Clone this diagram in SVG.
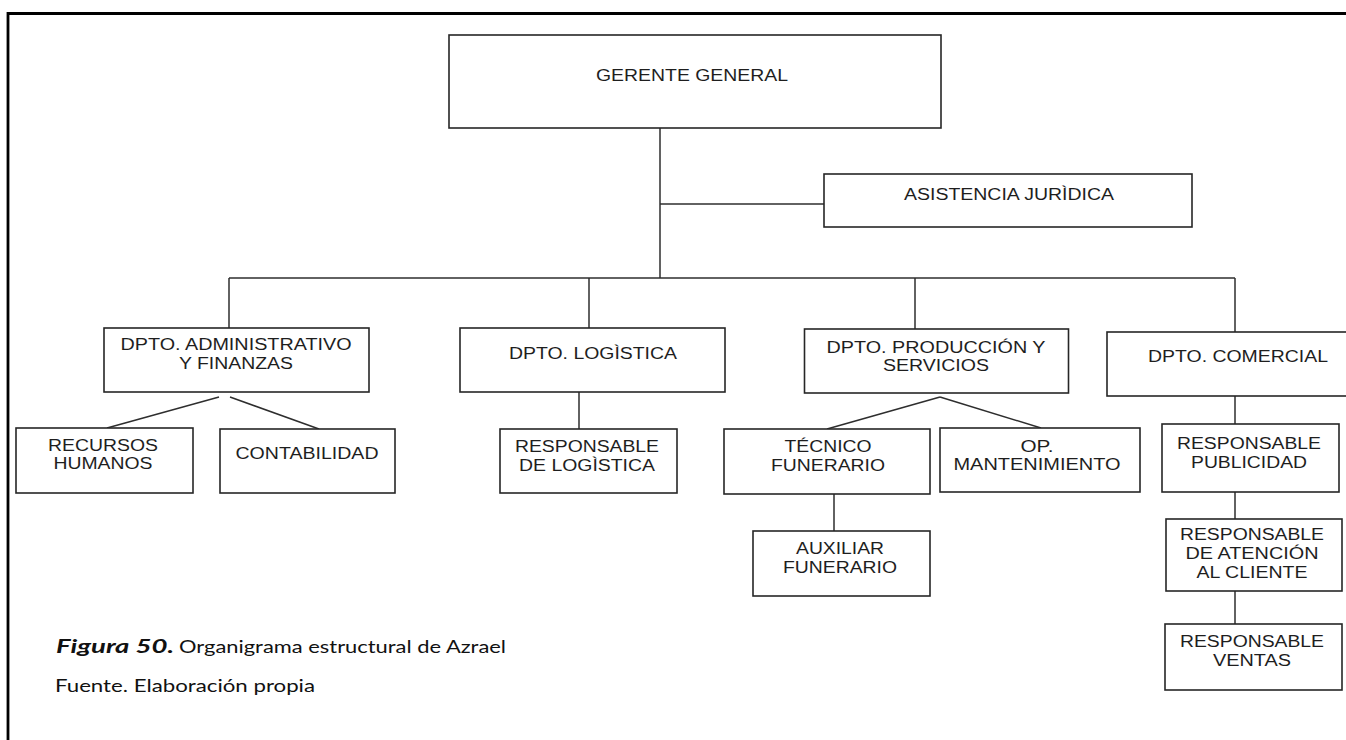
<svg xmlns="http://www.w3.org/2000/svg" width="1346" height="740" viewBox="0 0 1346 740">
<style>
.box{fill:#fff;stroke:#262626;stroke-width:1.6}
.con{fill:none;stroke:#2e2e2e;stroke-width:1.5}
.lbl{font-family:"Liberation Sans",Arial,sans-serif;font-size:16px;fill:#1e1e1e;text-anchor:middle}
.cap{font-family:Lato,"Open Sans",sans-serif;font-size:18px;fill:#111}
</style>
<rect width="1346" height="740" fill="#fff"/>
<path d="M8,740 V13.5 H1346" fill="none" stroke="#000" stroke-width="2.8"/>
<g id="connectors">
<path class="con" d="M660,128 V278"/>
<path class="con" d="M660,204 H824"/>
<path class="con" d="M229,278 H1235"/>
<path class="con" d="M229,278 V328"/>
<path class="con" d="M589,278 V328"/>
<path class="con" d="M915,278 V329"/>
<path class="con" d="M1235,278 V332"/>
<path class="con" d="M219,397 L107,428"/>
<path class="con" d="M230,397 L319,429"/>
<path class="con" d="M579,392 V429"/>
<path class="con" d="M940,397 L827,429"/>
<path class="con" d="M940,397 L1041,428"/>
<path class="con" d="M834,494 V531"/>
<path class="con" d="M1235,396 V424"/>
<path class="con" d="M1235,492 V519"/>
<path class="con" d="M1235,591 V624"/>
</g>
<g id="gerente"><rect class="box" x="449" y="35" width="492" height="93"/><text class="lbl" x="692" y="81" textLength="192" lengthAdjust="spacingAndGlyphs">GERENTE GENERAL</text></g>
<g id="asistencia"><rect class="box" x="824" y="174" width="368" height="53"/><text class="lbl" x="1009" y="200" textLength="210" lengthAdjust="spacingAndGlyphs">ASISTENCIA JURÌDICA</text></g>
<g id="admin"><rect class="box" x="104" y="328" width="265" height="64"/><text class="lbl" x="236" y="350" textLength="231" lengthAdjust="spacingAndGlyphs">DPTO. ADMINISTRATIVO</text><text class="lbl" x="236" y="369" textLength="114" lengthAdjust="spacingAndGlyphs">Y FINANZAS</text></g>
<g id="logistica"><rect class="box" x="460" y="328" width="265" height="64"/><text class="lbl" x="593" y="359" textLength="168" lengthAdjust="spacingAndGlyphs">DPTO. LOGÌSTICA</text></g>
<g id="produccion"><rect class="box" x="804.5" y="329" width="264" height="64"/><text class="lbl" x="936" y="353" textLength="219" lengthAdjust="spacingAndGlyphs">DPTO. PRODUCCIÓN Y</text><text class="lbl" x="936" y="371" textLength="106" lengthAdjust="spacingAndGlyphs">SERVICIOS</text></g>
<g id="comercial"><rect class="box" x="1107" y="332" width="250" height="64"/><text class="lbl" x="1238" y="362" textLength="180" lengthAdjust="spacingAndGlyphs">DPTO. COMERCIAL</text></g>
<g id="rrhh"><rect class="box" x="16" y="428" width="177" height="65"/><text class="lbl" x="103" y="451" textLength="110" lengthAdjust="spacingAndGlyphs">RECURSOS</text><text class="lbl" x="103" y="469" textLength="99" lengthAdjust="spacingAndGlyphs">HUMANOS</text></g>
<g id="contabilidad"><rect class="box" x="220" y="429" width="175" height="64"/><text class="lbl" x="307" y="459" textLength="143" lengthAdjust="spacingAndGlyphs">CONTABILIDAD</text></g>
<g id="resp-logistica"><rect class="box" x="500" y="429" width="177" height="64"/><text class="lbl" x="587" y="452" textLength="144" lengthAdjust="spacingAndGlyphs">RESPONSABLE</text><text class="lbl" x="587" y="471" textLength="136" lengthAdjust="spacingAndGlyphs">DE LOGÌSTICA</text></g>
<g id="tecnico"><rect class="box" x="724" y="429" width="206" height="65"/><text class="lbl" x="828" y="452" textLength="87" lengthAdjust="spacingAndGlyphs">TÉCNICO</text><text class="lbl" x="828" y="471" textLength="114" lengthAdjust="spacingAndGlyphs">FUNERARIO</text></g>
<g id="mantenimiento"><rect class="box" x="940" y="428" width="200" height="64"/><text class="lbl" x="1037" y="452" textLength="33" lengthAdjust="spacingAndGlyphs">OP.</text><text class="lbl" x="1037" y="470" textLength="167" lengthAdjust="spacingAndGlyphs">MANTENIMIENTO</text></g>
<g id="publicidad"><rect class="box" x="1162" y="424" width="177" height="68"/><text class="lbl" x="1249" y="449" textLength="144" lengthAdjust="spacingAndGlyphs">RESPONSABLE</text><text class="lbl" x="1249" y="468" textLength="116" lengthAdjust="spacingAndGlyphs">PUBLICIDAD</text></g>
<g id="auxiliar"><rect class="box" x="753" y="531" width="177" height="65"/><text class="lbl" x="840" y="554" textLength="88" lengthAdjust="spacingAndGlyphs">AUXILIAR</text><text class="lbl" x="840" y="573" textLength="114" lengthAdjust="spacingAndGlyphs">FUNERARIO</text></g>
<g id="atencion"><rect class="box" x="1166" y="519" width="176" height="72"/><text class="lbl" x="1252" y="540" textLength="144" lengthAdjust="spacingAndGlyphs">RESPONSABLE</text><text class="lbl" x="1252" y="559" textLength="133" lengthAdjust="spacingAndGlyphs">DE ATENCIÓN</text><text class="lbl" x="1252" y="578" textLength="111" lengthAdjust="spacingAndGlyphs">AL CLIENTE</text></g>
<g id="ventas"><rect class="box" x="1165" y="624" width="177" height="66"/><text class="lbl" x="1252" y="647" textLength="144" lengthAdjust="spacingAndGlyphs">RESPONSABLE</text><text class="lbl" x="1252" y="666" textLength="78" lengthAdjust="spacingAndGlyphs">VENTAS</text></g>
<g id="caption">
<text class="cap" x="56" y="653" font-weight="bold" font-style="italic" textLength="118" lengthAdjust="spacingAndGlyphs">Figura 50.</text>
<text class="cap" x="179" y="653" textLength="327" lengthAdjust="spacingAndGlyphs">Organigrama estructural de Azrael</text>
<text class="cap" x="55" y="692" textLength="260" lengthAdjust="spacingAndGlyphs">Fuente. Elaboración propia</text>
</g>
</svg>
